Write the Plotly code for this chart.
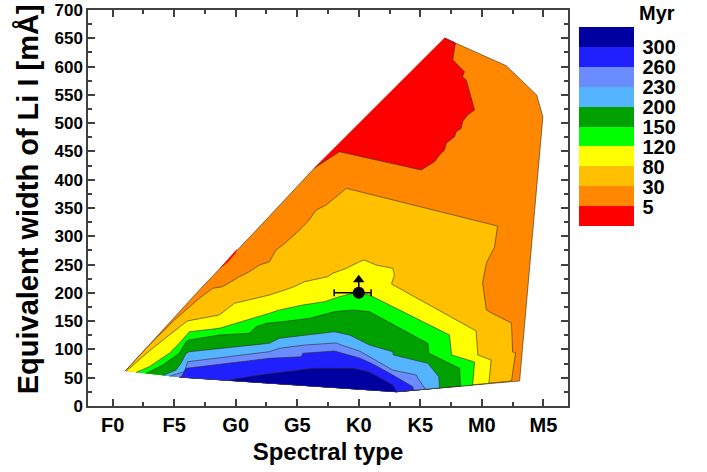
import plotly.graph_objects as go

# ---------------- data ----------------
# spectral type as numeric subtype index: F0=0, F5=5, G0=10, G5=15, K0=20, K5=25, M0=30, M5=35
spt_tickvals = [0, 5, 10, 15, 20, 25, 30, 35]
spt_ticktext = ["F0", "F5", "G0", "G5", "K0", "K5", "M0", "M5"]

age_labels = ["5", "30", "80", "120", "150", "200", "230", "260", "300"]
band_colors = ["#FF0000", "#FF8800", "#FFC000", "#FFFF00", "#00FF00",
               "#00A000", "#55B4FF", "#6A8CFF", "#2020FF", "#0000A0"]

# outer boundary of the model grid (SpT, EW Li I [mA])
hull_x = [1.03, 7.05, 11.9, 16.40, 26.98, 27.85, 31.98, 34.45, 34.96, 33.07, 23.07, 5.42]
hull_y = [61.9, 205.1, 316.0, 420.7, 650.5, 641.7, 601.5, 549.8, 511.4, 44.2, 25.3, 51.3]

# lower hull edge (right to left) used to close each band
bottom_x = [33.07, 23.07, 5.42, 1.03]
bottom_y = [44.2, 25.3, 51.3, 61.9]

# < 5 Myr region
red_x = [16.40, 18.43, 25.07, 25.48, 26.15, 26.56, 26.97, 27.11, 27.78, 27.92, 28.33,
         28.43, 28.84, 29.41, 28.73, 28.43, 28.59, 27.64, 27.85, 26.98]
red_y = [420.7, 449.5, 417.2, 423.0, 431.8, 443.7, 452.5, 464.4, 476.0, 484.9, 490.9,
         502.6, 514.4, 523.2, 576.3, 582.1, 590.9, 611.8, 641.7, 650.5]
red_sliver_x = [8.63, 10.14, 9.97, 9.33]
red_sliver_y = [241.3, 278.4, 269.5, 253.5]

# upper boundaries of each band (left to right)
b30_x = [1.03, 2.98, 5.02, 7.05, 8.13, 8.94, 10.30, 11.11, 11.93, 12.74, 13.28, 13.82, 14.91,
         15.85, 16.54, 17.35, 18.98, 31.28, 31.03, 30.37, 30.06, 30.37, 30.63, 32.41, 32.50,
         32.74, 32.41]
b30_y = [61.9, 107.8, 152.0, 190.4, 208.1, 210.9, 228.6, 237.4, 249.2, 255.1, 275.8, 284.6,
         305.3, 325.8, 346.5, 355.3, 384.8, 318.2, 281.0, 252.8, 217.4, 169.7, 166.2, 146.7,
         95.5, 93.7, 44.2]

b80_x = [1.11, 2.98, 4.61, 6.07, 8.67, 9.89, 12.74, 13.55, 14.63, 15.59, 17.48, 17.89, 18.98,
         20.06, 20.46, 21.41, 22.76, 22.90, 22.66, 29.54, 29.67, 30.76, 30.57]
b80_y = [61.7, 97.2, 125.5, 150.3, 160.9, 181.5, 196.2, 202.0, 209.8, 219.7, 228.6, 234.6,
         243.4, 255.1, 258.1, 249.2, 243.4, 231.6, 215.7, 132.6, 90.2, 81.3, 40.1]

b120_x = [1.90, 2.98, 4.61, 5.42, 6.24, 8.67, 10.03, 10.98, 12.74, 13.55, 15.45, 17.21, 18.43,
          19.51, 20.87, 27.37, 27.54, 29.41, 29.25]
b120_y = [59.2, 69.5, 93.2, 110.8, 131.3, 137.3, 146.2, 152.0, 163.9, 169.7, 178.5, 184.4,
          193.2, 199.2, 196.2, 125.5, 90.2, 77.8, 36.9]

b150_x = [2.72, 4.07, 5.42, 5.97, 6.24, 8.67, 11.11, 11.66, 12.47, 13.82, 15.99, 18.02, 19.51,
          20.87, 25.61, 25.69, 28.19, 28.27]
b150_y = [57.5, 72.5, 93.2, 113.7, 116.7, 125.5, 128.5, 140.2, 146.2, 149.0, 155.0, 166.7,
          169.7, 166.7, 110.8, 93.2, 66.6, 35.2]

b200_x = [4.07, 5.15, 5.56, 5.97, 6.24, 12.74, 13.55, 15.99, 18.02, 19.24, 20.87, 22.76, 22.82,
          25.61, 26.50, 26.56]
b200_y = [53.9, 63.6, 75.5, 93.2, 96.0, 110.8, 119.7, 125.5, 131.3, 125.5, 107.8, 96.0, 90.2,
          75.5, 51.8, 31.8]

b230_x = [4.61, 5.83, 6.10, 12.74, 13.55, 14.63, 15.59, 18.16, 18.70, 20.06, 22.76, 24.67, 24.80,
          25.42]
b230_y = [52.5, 60.6, 78.3, 96.0, 102.0, 104.8, 107.8, 111.4, 106.9, 97.2, 63.6, 54.8, 49.0,
          29.7]

b260_x = [5.56, 5.97, 12.74, 15.32, 15.45, 18.02, 20.06, 21.14, 22.76, 24.39, 24.45]
b260_y = [50.7, 66.6, 84.3, 87.1, 93.2, 97.2, 84.9, 74.2, 54.8, 34.1, 27.9]

b300_x = [9.35, 11.93, 16.26, 19.51, 20.87, 22.76, 23.07]
b300_y = [45.4, 54.8, 66.6, 66.6, 60.1, 37.1, 25.3]

# observed star
star_spt = [20]
star_ew = [200]
star_spt_err_plus = [1]
star_spt_err_minus = [2]
star_ew_arrow = [19]
arrow_ew = [223]

# ---------------- figure ----------------
FONT = "Liberation Sans, Arial, sans-serif"
LINE = dict(color="rgba(50,40,30,0.85)", width=0.7)

fig = go.Figure()


def band(tx, ty):
    xs, ys = list(tx), list(ty)
    for bx, by in zip(bottom_x, bottom_y):
        if tx[0] < bx < tx[-1]:
            xs.append(bx)
            ys.append(by)
    return xs, ys


fig.add_trace(go.Scatter(x=hull_x, y=hull_y, fill="toself", fillcolor=band_colors[1],
                         mode="lines", line=LINE, hoverinfo="skip", showlegend=False))
fig.add_trace(go.Scatter(x=red_x, y=red_y, fill="toself", fillcolor=band_colors[0],
                         mode="lines", line=LINE, hoverinfo="skip", showlegend=False))
fig.add_trace(go.Scatter(x=red_sliver_x, y=red_sliver_y, fill="toself", fillcolor=band_colors[0],
                         mode="lines", line=dict(width=0), hoverinfo="skip", showlegend=False))

tops = [(b30_x, b30_y), (b80_x, b80_y), (b120_x, b120_y), (b150_x, b150_y),
        (b200_x, b200_y), (b230_x, b230_y), (b260_x, b260_y), (b300_x, b300_y)]
for i, (tx, ty) in enumerate(tops):
    xs, ys = band(tx, ty)
    fig.add_trace(go.Scatter(x=xs, y=ys, fill="toself", fillcolor=band_colors[i + 2],
                             mode="lines", line=LINE, hoverinfo="skip", showlegend=False))

# star with error bar and lower-limit arrow
fig.add_trace(go.Scatter(x=star_spt, y=star_ew, mode="markers",
                         marker=dict(symbol="circle", size=12, color="black"),
                         error_x=dict(type="data", symmetric=False, array=star_spt_err_plus,
                                      arrayminus=star_spt_err_minus, color="black",
                                      thickness=1.5, width=3.5),
                         error_y=dict(type="data", symmetric=False, array=star_ew_arrow,
                                      arrayminus=[0], color="black", thickness=1.5, width=0),
                         showlegend=False, hoverinfo="skip"))
fig.add_trace(go.Scatter(x=star_spt, y=arrow_ew, mode="markers",
                         marker=dict(symbol="triangle-up", size=10, color="black"),
                         showlegend=False, hoverinfo="skip"))

# discrete colour key
n = len(band_colors)
cscale = []
for i, c in enumerate(band_colors):
    cscale.append([i / n, c])
    cscale.append([(i + 1) / n, c])
fig.add_trace(go.Scatter(x=[None], y=[None], mode="markers",
                         marker=dict(color=[0], cmin=0, cmax=n, colorscale=cscale,
                                     showscale=True,
                                     colorbar=dict(tickvals=list(range(1, n)),
                                                   ticktext=age_labels,
                                                   ticks="outside", ticklen=5,
                                                   tickcolor="rgba(0,0,0,0)",
                                                   outlinewidth=0,
                                                   thickness=55, thicknessmode="pixels",
                                                   len=199, lenmode="pixels",
                                                   x=1.023, xanchor="left",
                                                   y=0.956, yanchor="top",
                                                   xpad=0, ypad=0,
                                                   tickfont=dict(family=FONT, size=20,
                                                                 color="black", weight="bold"))),
                         showlegend=False, hoverinfo="skip"))

fig.add_annotation(text="<b>Myr</b>", xref="paper", yref="paper", x=1.185, y=0.992,
                   xanchor="center", yanchor="middle", showarrow=False,
                   font=dict(family=FONT, size=20, color="black"))

# y-axis title
fig.add_annotation(text="<b>Equivalent width of Li I [mÅ]</b>", xref="paper", yref="paper",
                   x=-0.125, y=0.522, xanchor="center", yanchor="middle", textangle=-90,
                   showarrow=False, font=dict(family=FONT, size=29, color="black"))

axis_common = dict(showline=True, linecolor="#404040", linewidth=1.5, mirror="ticks",
                   ticks="inside", ticklen=7, tickwidth=1.5, tickcolor="#404040",
                   showgrid=False, zeroline=False, automargin=False)

fig.update_xaxes(range=[-2, 37], tickvals=spt_tickvals, ticktext=spt_ticktext,
                 tickfont=dict(family=FONT, size=20, color="black", weight="bold"),
                 minor=dict(ticks="inside", ticklen=4, tickwidth=1.5, tickcolor="#404040",
                            dtick=2.5, tick0=0),
                 title=dict(text="Spectral type", standoff=8,
                            font=dict(family=FONT, size=24, color="black", weight="bold")),
                 **axis_common)
fig.update_yaxes(range=[0, 700], dtick=50, tick0=0,
                 tickfont=dict(family=FONT, size=17, color="black", weight="bold"),
                 minor=dict(ticks="inside", ticklen=4, tickwidth=1.5, tickcolor="#404040",
                            dtick=25, tick0=0),
                 **axis_common)

fig.update_layout(width=707, height=472,
                  margin=dict(l=88, r=139, t=10, b=66, autoexpand=False),
                  plot_bgcolor="white", paper_bgcolor="white",
                  font=dict(family=FONT, color="black"))

fig.write_html("out.html")
